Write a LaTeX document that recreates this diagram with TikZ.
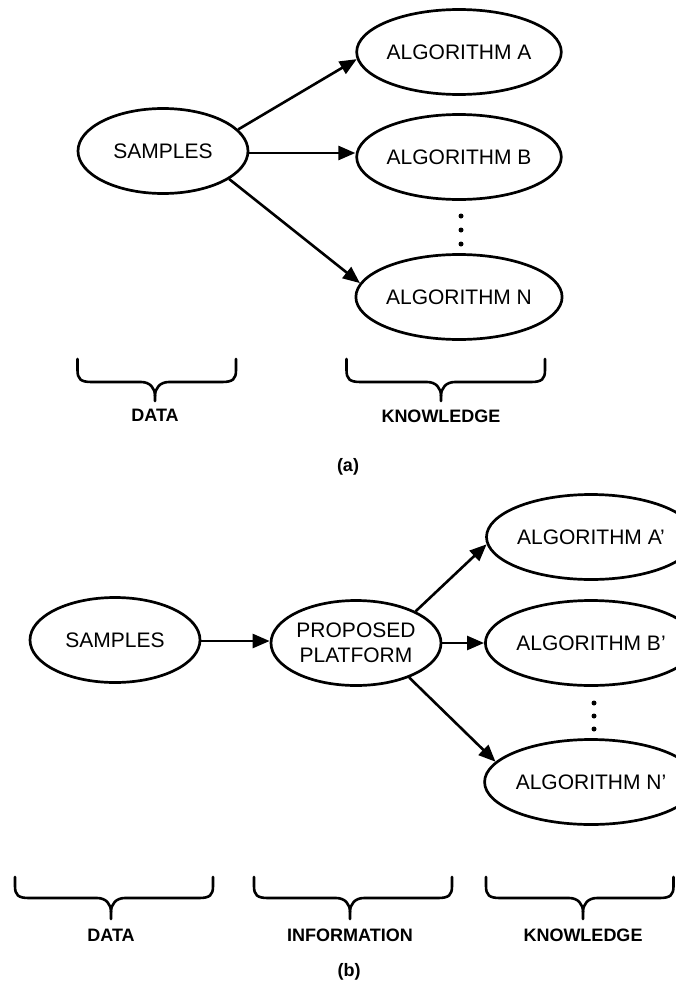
\documentclass[tikz,border=0pt]{standalone}
\usepackage{fontspec}
\setmainfont{Liberation Sans}
\usetikzlibrary{shapes.geometric,arrows.meta}
\tikzset{
  ell/.style={ellipse, draw, line width=2.7pt, minimum width=170pt, minimum height=85pt, inner sep=0pt,
    font=\fontsize{21}{25}\selectfont, align=center},
  conn/.style={line width=2.6pt, -{Triangle[length=17pt,width=14pt]}},
  bracestyle/.style={line width=2.6pt, line cap=round, line join=round},
  lbl/.style={font=\fontsize{18}{22}\selectfont\bfseries, inner sep=0pt},
  dotmark/.style={circle, fill, inner sep=0pt, minimum size=5pt}
}
\newcommand\mybrace[6]{%
  \draw[bracestyle] (#1,#4) -- (#1,#5-12) .. controls (#1,#5-3) and (#1+3,#5) .. (#1+14,#5) -- (#3-14,#5)
     .. controls (#3-5,#5) and (#3,#5+6) .. (#3,#5+14) -- (#3,#6);
  \draw[bracestyle] (#2,#4) -- (#2,#5-12) .. controls (#2,#5-3) and (#2-3,#5) .. (#2-14,#5) -- (#3+14,#5)
     .. controls (#3+5,#5) and (#3,#5+6) .. (#3,#5+14);
}
\begin{document}
\begin{tikzpicture}[x=1pt,y=-1pt]
\useasboundingbox (0,0) rectangle (675,985);
% ---- (a) ----
\node[ell] (s1) at (163,151) {SAMPLES};
\node[ell] (a1) at (459,52) {ALGORITHM A};
\node[ell] (b1) at (459,157) {ALGORITHM B};
\node[ell] (n1) at (459,297) {ALGORITHM N};
\node[dotmark] (d1a) at (461,216) {};
\node[dotmark] (d1b) at (461,230) {};
\node[dotmark] (d1c) at (461,244) {};
\coordinate (s1b) at ([yshift=-2pt]s1.east);
\draw[conn] (s1.16) -- (a1.184);
\draw[conn] (s1b) -- (s1b -| b1.west);
\draw[conn] (s1.-23) -- (n1.172);
\mybrace{77.5}{236}{155}{359}{382}{401}
\mybrace{346.5}{545}{441}{359}{382}{401}
\node[lbl] (l1) at (155,415) {DATA};
\node[lbl] (l2) at (441,416) {KNOWLEDGE};
\node[lbl] (ca) at (348,467) {(a)};
% ---- (b) ----
\node[ell] (s2) at (115,640) {SAMPLES};
\node[ell] (pp) at (356,643) {PROPOSED\\PLATFORM};
\node[ell] (a2) at (591,537) {ALGORITHM A'};
\node[ell] (b2) at (591,643) {ALGORITHM B'};
\node[ell] (n2) at (591,782) {ALGORITHM N'};
\node[dotmark] (d2a) at (594,703) {};
\node[dotmark] (d2b) at (594,716) {};
\node[dotmark] (d2c) at (594,729) {};
\coordinate (s2b) at ([yshift=-1pt]s2.east);
\draw[conn] (s2b) -- (s2b -| pp.west);
\draw[conn] (pp.28) -- (a2.184);
\draw[conn] (pp.east) -- (b2.west);
\draw[conn] (pp.-33) -- (n2.168);
\mybrace{15}{213}{111}{877}{898}{919}
\mybrace{254}{452}{350}{877}{898}{919}
\mybrace{486}{673.5}{583}{877}{898}{919}
\node[lbl] (l3) at (111,935) {DATA};
\node[lbl] (l4) at (350,935) {INFORMATION};
\node[lbl] (l5) at (583,935) {KNOWLEDGE};
\node[lbl] (cb) at (349,972) {(b)};
\end{tikzpicture}
\end{document}
